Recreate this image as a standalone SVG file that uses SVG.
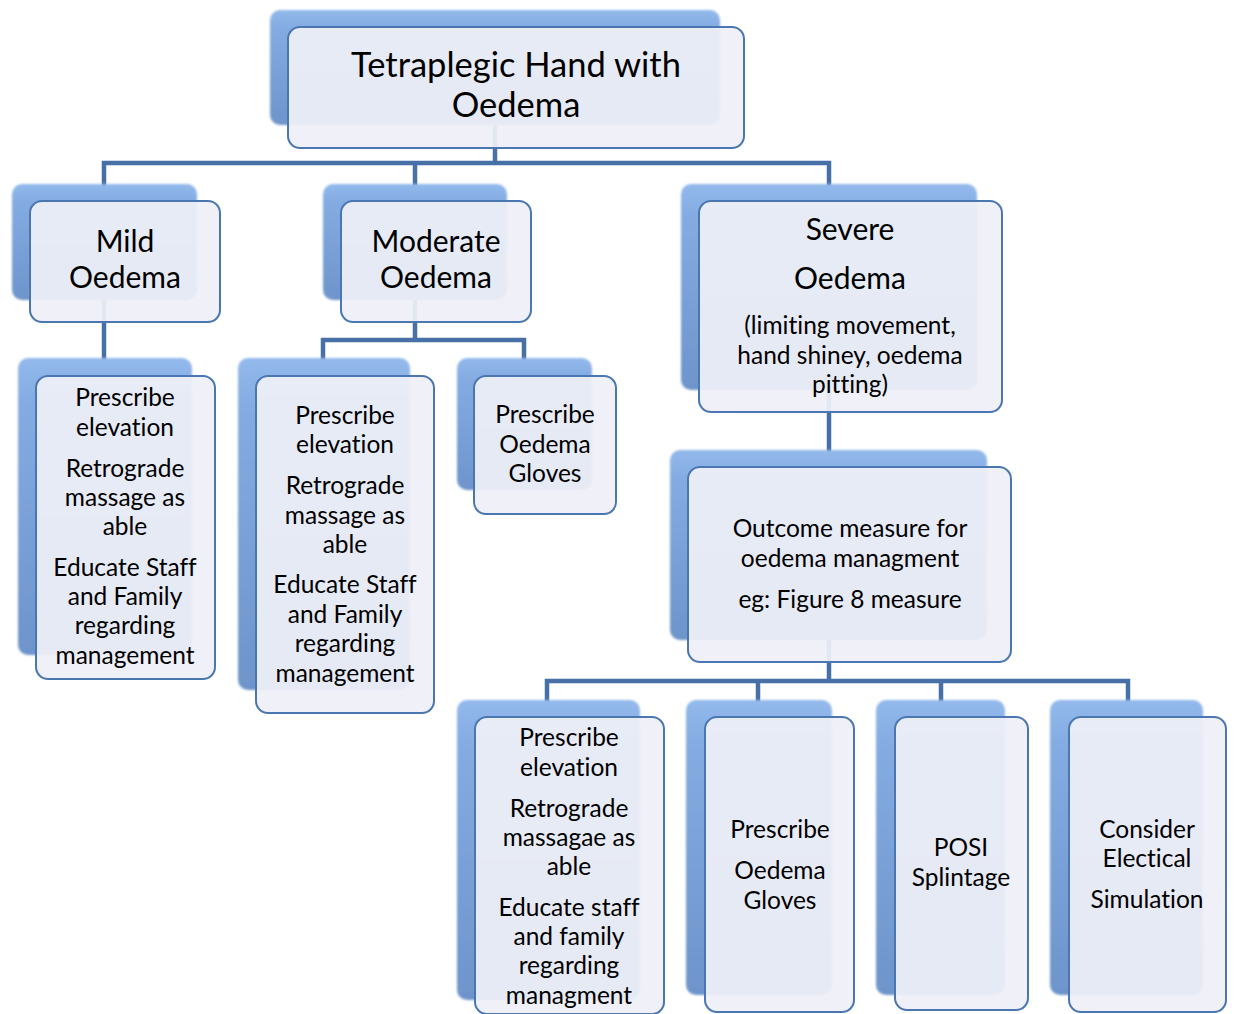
<svg xmlns="http://www.w3.org/2000/svg" width="1234" height="1014" viewBox="0 0 1234 1014">
<defs>
<linearGradient id="bk" x1="0" y1="0" x2="0" y2="1">
<stop offset="0" stop-color="#93b9ec"/>
<stop offset="0.15" stop-color="#84acE2"/>
<stop offset="1" stop-color="#6e95cb"/>
</linearGradient>
<filter id="soft" x="-5%" y="-5%" width="110%" height="110%"><feGaussianBlur stdDeviation="1.2"/></filter>
<style>
.bk{fill:url(#bk);filter:url(#soft)}
.fr{fill:#eff0f8;fill-opacity:0.93;stroke:#4a77b2;stroke-width:2}
.c{fill:none;stroke:#4670a6;stroke-width:4.5}
text{font-family:Lato,"Open Sans","Liberation Sans",sans-serif;font-variant-ligatures:none;fill:#000;text-anchor:middle}
.t1{font-size:34.5px}
.t2{font-size:30px}
.t3{font-size:24.5px}
</style>
</defs>
<rect width="1234" height="1014" fill="#fff"/>
<g id="connectors">
<path class="c" d="M495 125V163M104 200V163H829V200M415 200V163"/>
<path class="c" d="M104 300V360"/>
<path class="c" d="M415 300V340H323V360M415 340H524V360"/>
<path class="c" d="M829 390V452"/>
<path class="c" d="M829 640V681H547V702M829 681H1128V702M758 681V702M941 681V702"/>
</g>
<g id="root">
<rect class="bk" x="270" y="10" width="450" height="115" rx="10"/>
<rect class="fr" x="288" y="27" width="456" height="121" rx="12"/>
<text class="t1" x="516" y="77">Tetraplegic Hand with</text>
<text class="t1" x="516" y="117">Oedema</text>
</g>
<g id="mild">
<rect class="bk" x="12" y="184" width="185" height="116" rx="10"/>
<rect class="fr" x="30" y="201" width="190" height="121" rx="12"/>
<text class="t2" x="125" y="252">Mild</text>
<text class="t2" x="125" y="288">Oedema</text>
</g>
<g id="moderate">
<rect class="bk" x="323" y="184" width="184" height="116" rx="10"/>
<rect class="fr" x="341" y="201" width="190" height="121" rx="12"/>
<text class="t2" x="436" y="252">Moderate</text>
<text class="t2" x="436" y="288">Oedema</text>
</g>
<g id="severe">
<rect class="bk" x="681" y="184" width="296" height="206" rx="10"/>
<rect class="fr" x="699" y="201" width="303" height="211" rx="12"/>
<text class="t2" x="850" y="240">Severe</text>
<text class="t2" x="850" y="289">Oedema</text>
<text class="t3" x="850" y="334">(limiting movement,</text>
<text class="t3" x="850" y="364">hand shiney, oedema</text>
<text class="t3" x="850" y="393">pitting)</text>
</g>
<g id="mild-care">
<rect class="bk" x="18" y="358" width="174" height="297" rx="10"/>
<rect class="fr" x="36" y="376" width="179" height="303" rx="12"/>
<text class="t3" x="125" y="406">Prescribe</text>
<text class="t3" x="125" y="436">elevation</text>
<text class="t3" x="125" y="477">Retrograde</text>
<text class="t3" x="125" y="506">massage as</text>
<text class="t3" x="125" y="535">able</text>
<text class="t3" x="125" y="576">Educate Staff</text>
<text class="t3" x="125" y="605">and Family</text>
<text class="t3" x="125" y="634">regarding</text>
<text class="t3" x="125" y="664">management</text>
</g>
<g id="moderate-care">
<rect class="bk" x="238" y="358" width="172" height="332" rx="10"/>
<rect class="fr" x="256" y="376" width="178" height="337" rx="12"/>
<text class="t3" x="345" y="424">Prescribe</text>
<text class="t3" x="345" y="453">elevation</text>
<text class="t3" x="345" y="494">Retrograde</text>
<text class="t3" x="345" y="524">massage as</text>
<text class="t3" x="345" y="553">able</text>
<text class="t3" x="345" y="593">Educate Staff</text>
<text class="t3" x="345" y="623">and Family</text>
<text class="t3" x="345" y="652">regarding</text>
<text class="t3" x="345" y="682">management</text>
</g>
<g id="moderate-gloves">
<rect class="bk" x="457" y="358" width="135" height="132" rx="10"/>
<rect class="fr" x="474" y="376" width="142" height="138" rx="12"/>
<text class="t3" x="545" y="423">Prescribe</text>
<text class="t3" x="545" y="453">Oedema</text>
<text class="t3" x="545" y="482">Gloves</text>
</g>
<g id="outcome">
<rect class="bk" x="670" y="450" width="317" height="190" rx="10"/>
<rect class="fr" x="688" y="467" width="323" height="195" rx="12"/>
<text class="t3" x="850" y="537">Outcome measure for</text>
<text class="t3" x="850" y="567">oedema managment</text>
<text class="t3" x="850" y="608">eg: Figure 8 measure</text>
</g>
<g id="severe-care">
<rect class="bk" x="457" y="700" width="183" height="300" rx="10"/>
<rect class="fr" x="475" y="717" width="189" height="297" rx="12"/>
<text class="t3" x="569" y="746">Prescribe</text>
<text class="t3" x="569" y="776">elevation</text>
<text class="t3" x="569" y="817">Retrograde</text>
<text class="t3" x="569" y="846">massagae as</text>
<text class="t3" x="569" y="875">able</text>
<text class="t3" x="569" y="916">Educate staff</text>
<text class="t3" x="569" y="945">and family</text>
<text class="t3" x="569" y="974">regarding</text>
<text class="t3" x="569" y="1004">managment</text>
</g>
<g id="severe-gloves">
<rect class="bk" x="686" y="700" width="146" height="295" rx="10"/>
<rect class="fr" x="705" y="717" width="149" height="295" rx="12"/>
<text class="t3" x="780" y="838">Prescribe</text>
<text class="t3" x="780" y="879">Oedema</text>
<text class="t3" x="780" y="909">Gloves</text>
</g>
<g id="splintage">
<rect class="bk" x="876" y="700" width="129" height="295" rx="10"/>
<rect class="fr" x="895" y="717" width="133" height="293" rx="12"/>
<text class="t3" x="961" y="856">POSI</text>
<text class="t3" x="961" y="886">Splintage</text>
</g>
<g id="electrical">
<rect class="bk" x="1050" y="700" width="153" height="295" rx="10"/>
<rect class="fr" x="1069" y="717" width="157" height="295" rx="12"/>
<text class="t3" x="1147" y="838">Consider</text>
<text class="t3" x="1147" y="867">Electical</text>
<text class="t3" x="1147" y="908">Simulation</text>
</g>
</svg>
